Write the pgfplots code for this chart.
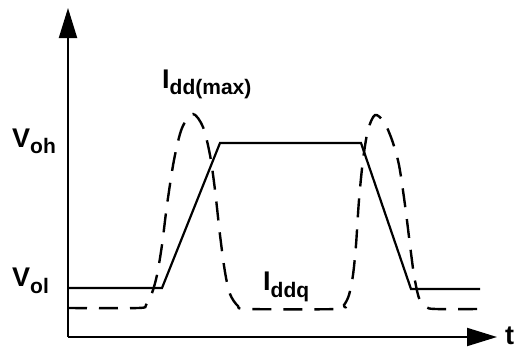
\documentclass[border=0pt]{standalone}
\usepackage{pgfplots}
\pgfplotsset{compat=1.18}
\usepackage{fontspec}
\setmainfont{Liberation Sans}
\usetikzlibrary{arrows.meta}

% Output voltage (solid) and supply current (dashed) over one switching cycle
\pgfplotstableread{
x y
68 61
162 61
220 206
361 206
411 60
480 60
}\vout

\pgfplotstableread{
x y
68 41
138 41
146 44
152 56
157 74
162 104
167 144
174 189
182 221
193 235
203 222
210 194
215 159
220 114
225 77
230 55
238 43
248 40
338 40
344 44
349 54
353 74
356 104
359 149
363 189
368 219
375 234
384 227
392 209
399 184
405 144
410 104
414 74
419 51
426 42
436 40
480 40
}\idd

\newcommand{\mainsym}[1]{{\fontsize{27}{27}\selectfont\bfseries #1}}
\newcommand{\subsym}[1]{\raisebox{-7pt}{\fontsize{21}{21}\selectfont\bfseries #1}}

\begin{document}
\begin{tikzpicture}
\begin{axis}[
  x=1pt, y=1pt,
  xmin=68, xmax=497, ymin=12, ymax=341,
  axis lines=left,
  axis line style={line width=2pt, -{Triangle[length=30pt,width=18pt]}},
  xtick=\empty, ytick=\empty,
  clip=false,
]
\addplot[black, line width=2.2pt, sharp plot] table {\vout};
\addplot[black, line width=2.4pt, smooth, tension=0.5,
  dash pattern=on 19pt off 12pt] table {\idd};

\node[anchor=base west, inner sep=0pt] at (axis cs:12,202) {\mainsym{V}\subsym{oh}};
\node[anchor=base west, inner sep=0pt] at (axis cs:12,63) {\mainsym{V}\subsym{ol}};
\node[anchor=base west, inner sep=0pt] at (axis cs:162,261) {\mainsym{I}\subsym{dd(max)}};
\node[anchor=base west, inner sep=0pt] at (axis cs:263,59) {\mainsym{I}\subsym{ddq}};
\node[anchor=base west, inner sep=0pt] at (axis cs:505,5) {\mainsym{t}};

\coordinate (bl) at (axis cs:0,0);
\coordinate (tr) at (axis cs:517,349);
\end{axis}
\pgfresetboundingbox
\useasboundingbox (bl) rectangle (tr);
\end{tikzpicture}
\end{document}
